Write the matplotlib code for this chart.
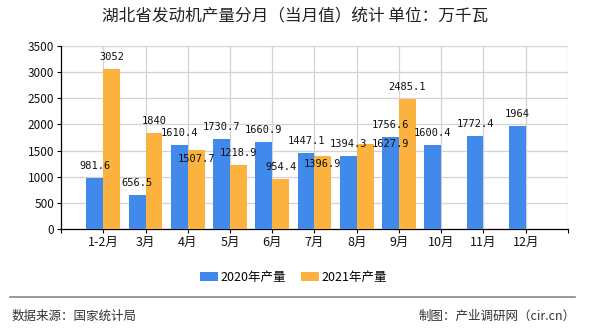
import matplotlib
matplotlib.use("Agg")
import matplotlib.pyplot as plt
from matplotlib.patches import Patch
from matplotlib.lines import Line2D

plt.rcParams['font.family'] = ['Noto Sans CJK SC', 'DejaVu Sans']

categories = ['1-2月', '3月', '4月', '5月', '6月', '7月', '8月', '9月', '10月', '11月', '12月']
values_2020 = [981.6, 656.5, 1610.4, 1730.7, 1660.9, 1447.1, 1394.3, 1756.6, 1600.4, 1772.4, 1964]
values_2021 = [3052, 1840, 1507.7, 1218.9, 954.4, 1396.9, 1627.9, 2485.1]
label_2020 = '2020年产量'
label_2021 = '2021年产量'
title = '湖北省发动机产量分月（当月值）统计 单位：万千瓦'
source_text = '数据来源：国家统计局'
maker_text = '制图：产业调研网（cir.cn）'
yticks = [0, 500, 1000, 1500, 2000, 2500, 3000, 3500]

BLUE = '#418AEB'
ORANGE = '#FBB23F'

fig = plt.figure(figsize=(5.9, 3.3), dpi=100)
ax = fig.add_axes([0.1034, 0.3061, 0.9627 - 0.1034, 0.8606 - 0.3061])

w = 0.4
pos = list(range(1, len(categories) + 1))
b1 = ax.bar([p - w / 2 for p in pos], values_2020, width=w, color=BLUE, zorder=3)
b2 = ax.bar([p + w / 2 for p in pos[:len(values_2021)]], values_2021, width=w, color=ORANGE, zorder=3)

ax.set_xlim(0, 12)
ax.set_ylim(0, 3500)
ax.set_yticks(yticks)
ax.set_yticklabels([str(t) for t in yticks], fontsize=8.5)
ax.set_xticks([0] + pos + [12])
ax.set_xticklabels([''] + categories + [''], fontsize=9)
ax.tick_params(axis='both', direction='out', length=3, width=0.8, color='black', labelcolor='#111111')
ax.tick_params(axis='x', pad=2)
ax.tick_params(axis='y', pad=2)

for y in yticks[1:]:
    ax.axhline(y, color='#d3d3d3', lw=0.9, zorder=1)
for x in pos + [12]:
    ax.axvline(x, color='#d3d3d3', lw=0.9, zorder=1)

for s in ['top', 'right']:
    ax.spines[s].set_visible(False)
ax.spines['left'].set_color('black')
ax.spines['bottom'].set_color('black')
ax.spines['left'].set_linewidth(0.9)
ax.spines['bottom'].set_linewidth(0.9)

# label offsets (pixels) for a few crowded labels
off_2020 = {}
off_2021 = {2: (0, -9), 5: (0, -8), 6: (25, 0)}

def fmt(v):
    return ('%g' % v)

for i, rect in enumerate(b1):
    dx, dy = off_2020.get(i, (0, 12))
    ax.annotate(fmt(values_2020[i]), (rect.get_x() + rect.get_width() / 2, rect.get_height()),
                xytext=(dx, dy), textcoords='offset pixels', ha='center', va='center',
                fontsize=7.5, family='DejaVu Sans Mono', color='#111111', zorder=5)
for i, rect in enumerate(b2):
    dx, dy = off_2021.get(i, (0, 12))
    ax.annotate(fmt(values_2021[i]), (rect.get_x() + rect.get_width() / 2, rect.get_height()),
                xytext=(dx, dy), textcoords='offset pixels', ha='center', va='center',
                fontsize=7.5, family='DejaVu Sans Mono', color='#111111', zorder=5)

fig.text(0.5, 1 - 17 / 330, title, ha='center', va='center', fontsize=12, color='#222222')

handles = [Patch(facecolor=BLUE, edgecolor='none'), Patch(facecolor=ORANGE, edgecolor='none')]
fig.legend(handles, [label_2020, label_2021], loc='center', bbox_to_anchor=(0.497, 1 - 277 / 330),
           ncol=2, frameon=False, fontsize=9, handlelength=1.45, handleheight=0.7,
           handletextpad=0.2, columnspacing=1.2, borderpad=0)

fig.add_artist(Line2D([10 / 590, 575 / 590], [1 - 297 / 330, 1 - 297 / 330],
                      transform=fig.transFigure, color='#888888', lw=1.2))
fig.text(12 / 590, 1 - 316 / 330, source_text, ha='left', va='center', fontsize=9, color='#333333')
fig.text(576 / 590, 1 - 316 / 330, maker_text, ha='right', va='center', fontsize=9, color='#333333')

fig.savefig('out.png', dpi=100)
